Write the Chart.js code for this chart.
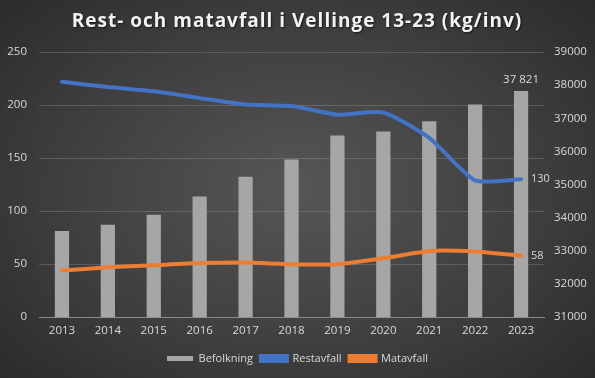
<!DOCTYPE html>
<html><head><meta charset="utf-8">
<script src="https://cdn.jsdelivr.net/npm/chart.js@4"></script>
<style>
html,body{margin:0;padding:0;}
#wrap{width:595px;height:378px;position:relative;background:radial-gradient(ellipse 70% 75% at 50% 50%, #565656 0%, #3d3d3d 60%, #2a2a2a 100%);}
canvas{display:block;}
</style></head><body>
<div id="wrap"><canvas id="c" width="595" height="378"></canvas></div>
<script>
const years = ['2013','2014','2015','2016','2017','2018','2019','2020','2021','2022','2023'];
const befolkning = [33600, 33790, 34090, 34640, 35240, 35760, 36480, 36600, 36910, 37420, 37821];
const restavfall = [222, 217, 213, 206.5, 200.5, 199, 191, 193, 169, 129, 130];
const matavfall = [44, 47, 49, 51, 51.5, 50, 50, 55.5, 62.5, 62, 58];
const leftTicks = [0, 50, 100, 150, 200, 250];
const rightTicks = [31000, 32000, 33000, 34000, 35000, 36000, 37000, 38000, 39000];
const titleText = 'Rest- och matavfall i Vellinge 13-23 (kg/inv)';
const lastLabels = ['37 821', '130', '58'];

const txt = '#d9d9d9';
const font = '"Open Sans", "Liberation Sans", sans-serif';

const labelPlugin = {
  id: 'lastLabels',
  afterDatasetsDraw(chart) {
    const ctx = chart.ctx;
    ctx.save();
    ctx.font = '11.5px ' + font;
    ctx.fillStyle = txt;
    const i = years.length - 1;
    const bar = chart.getDatasetMeta(0).data[i];
    ctx.textAlign = 'center'; ctx.textBaseline = 'bottom';
    ctx.fillText(lastLabels[0], bar.x, bar.y - 6);
    ctx.font = '11px ' + font;
    ctx.textAlign = 'left'; ctx.textBaseline = 'middle';
    const p1 = chart.getDatasetMeta(1).data[i];
    ctx.fillText(lastLabels[1], p1.x + 10, p1.y);
    const p2 = chart.getDatasetMeta(2).data[i];
    ctx.fillText(lastLabels[2], p2.x + 10, p2.y);
    ctx.restore();
  }
};

const titlePlugin = {
  id: 'ttl',
  afterDraw(chart) {
    const ctx = chart.ctx;
    ctx.save();
    ctx.font = 'bold 19px ' + font;
    try { ctx.letterSpacing = '1px'; } catch(e) {}
    ctx.fillStyle = '#f2f2f2';
    ctx.textAlign = 'center'; ctx.textBaseline = 'middle';
    ctx.shadowColor = 'rgba(0,0,0,0.6)'; ctx.shadowOffsetX = 1; ctx.shadowOffsetY = 1; ctx.shadowBlur = 2;
    ctx.fillText(titleText, 297, 22);
    ctx.restore();
  }
};

new Chart(document.getElementById('c'), {
  data: {
    labels: years,
    datasets: [
      { type: 'bar', label: 'Befolkning', data: befolkning, yAxisID: 'y1',
        backgroundColor: '#a6a6a6', borderWidth: 0, categoryPercentage: 1, barPercentage: 0.31, order: 3 },
      { type: 'line', label: 'Restavfall', data: restavfall, yAxisID: 'y',
        borderColor: '#4472c4', backgroundColor: '#4472c4', borderWidth: 4, pointRadius: 0, tension: 0.2, borderCapStyle: 'round', order: 1 },
      { type: 'line', label: 'Matavfall', data: matavfall, yAxisID: 'y',
        borderColor: '#ed7d31', backgroundColor: '#ed7d31', borderWidth: 4, pointRadius: 0, tension: 0.2, borderCapStyle: 'round', order: 2 }
    ]
  },
  options: {
    responsive: false, animation: false, devicePixelRatio: 1,
    layout: { padding: { top: 52, left: 0, right: 0, bottom: 4 } },
    plugins: {
      title: { display: false },
      tooltip: { enabled: false },
      legend: {
        position: 'bottom',
        labels: { color: txt, font: { size: 11, family: font }, boxWidth: 26, boxHeight: 5, padding: 8,
          sort: (a, b) => a.datasetIndex - b.datasetIndex }
      }
    },
    scales: {
      x: {
        grid: { display: false, drawTicks: false },
        border: { color: '#8a8a8a' },
        ticks: { color: txt, font: { size: 11.5, family: font }, padding: 7 }
      },
      y: {
        position: 'left', min: 0, max: 250,
        afterBuildTicks(s) { s.ticks = leftTicks.map(v => ({ value: v })); },
        afterFit(s) { s.width = 39; },
        grid: { color: 'rgba(255,255,255,0.16)', drawTicks: false },
        border: { display: false },
        ticks: { color: txt, font: { size: 11.5, family: font }, padding: 12, callback: v => String(v) }
      },
      y1: {
        position: 'right', min: 31000, max: 39000,
        afterBuildTicks(s) { s.ticks = rightTicks.map(v => ({ value: v })); },
        afterFit(s) { s.width = 51; },
        grid: { display: false, drawTicks: false },
        border: { display: false },
        ticks: { color: txt, font: { size: 11.5, family: font }, padding: 10, callback: v => String(v) }
      }
    }
  },
  plugins: [labelPlugin, titlePlugin]
});
</script>
</body></html>
